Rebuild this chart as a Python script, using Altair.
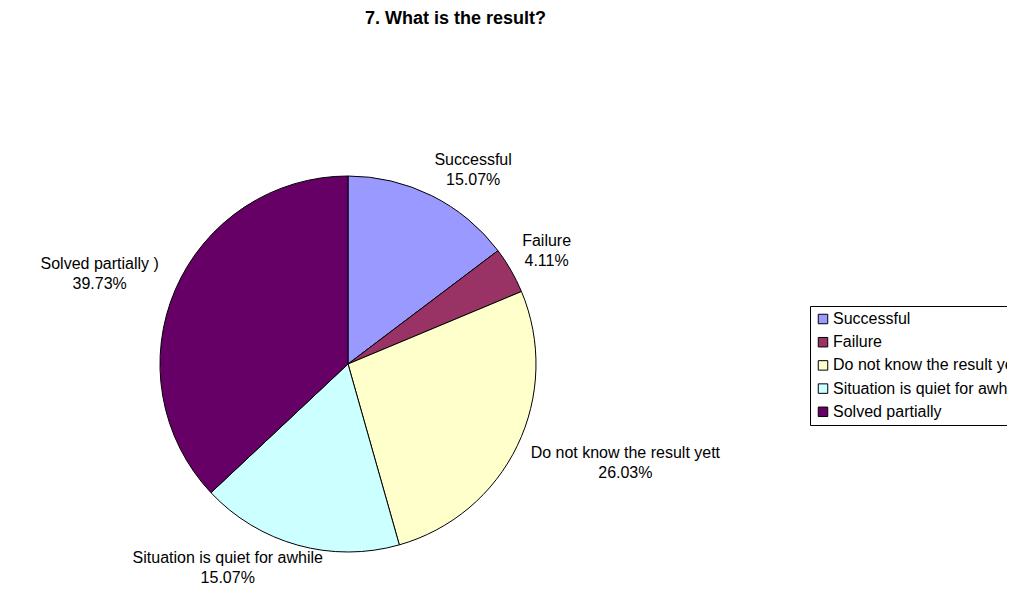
import altair as alt
import pandas as pd

# ---- data ----
categories = ["Successful", "Failure", "Do not know the result yet",
              "Situation is quiet for awhile", "Solved partially"]
slice_values = [14.7, 4.0, 26.9, 17.4, 37.0]          # share of the pie as drawn (%)
label_names = ["Successful", "Failure", "Do not know the result yett",
               "Situation is quiet for awhile", "Solved partially )"]
label_pcts = ["15.07%", "4.11%", "26.03%", "15.07%", "39.73%"]
colors = ["#9999FF", "#993366", "#FFFFCC", "#CCFFFF", "#660066"]

df = pd.DataFrame({
    "cat": categories,
    "value": slice_values,
    "order": list(range(len(categories))),
    "lname": label_names,
    "lpct": label_pcts,
})

# ---- layout (style) ----
W, H, PT = 999, 548, 30
CX, CY, R = 340, 326, 188
FONT = "Liberation Sans"

base = alt.Chart(df).transform_joinaggregate(
    total="sum(value)"
).transform_window(
    cum="sum(value)", sort=[alt.SortField("order")], frame=[None, 0]
)

pie = base.mark_arc(outerRadius=R, stroke="black", strokeWidth=1).encode(
    theta=alt.Theta("value:Q", stack=True),
    order=alt.Order("order:Q"),
    color=alt.Color(
        "cat:N",
        sort=categories,
        scale=alt.Scale(domain=categories, range=colors),
        legend=alt.Legend(
            title=None, orient="none", legendX=802, legendY=268,
            symbolType="square", symbolSize=90, symbolStrokeColor="black",
            symbolStrokeWidth=1, symbolOpacity=1,
            labelFont=FONT, labelFontSize=16, labelColor="black",
            labelLimit=500, labelOffset=2, rowPadding=7.2,
            strokeColor="black", fillColor="white", padding=5,
        ),
    ),
    x=alt.value(CX),
    y=alt.value(CY),
)

labels = base.transform_calculate(
    a="2*PI*(datum.cum - datum.value/2)/datum.total",
).transform_calculate(
    px=f"{CX} + {R}*sin(datum.a)",
    py=f"{CY} - {R}*cos(datum.a)",
    w="max(length(datum.lname), length(datum.lpct))*7.2",
    f="clamp(0.5 - 1.2*sin(datum.a), 0, 1)",
    fy="clamp(0.5 + 0.9*cos(datum.a), 0, 1)",
    gy="cos(datum.a) > 0 ? 11 : 3",
    txt="datum.lname + '\\n' + datum.lpct",
).transform_calculate(
    lx="datum.px + 12*sin(datum.a) + datum.w*(0.5 - datum.f)",
    ly="datum.py - datum.gy*cos(datum.a) + 36*(0.5 - datum.fy)",
).mark_text(
    font=FONT, fontSize=16, color="black", lineBreak="\n", lineHeight=20,
    align="center", baseline="middle", dy=-8,
).encode(
    x=alt.X("lx:Q", scale=None),
    y=alt.Y("ly:Q", scale=None),
    text="txt:N",
)

chart = alt.layer(pie, labels).properties(
    width=W, height=H,
    background="white",
    autosize=alt.AutoSizeParams(type="none"),
    padding={"top": PT, "left": 0, "right": 0, "bottom": 0},
    title=alt.TitleParams(
        "7. What is the result?", font=FONT, fontSize=18, fontWeight="bold",
        color="black", anchor="middle", frame="group", dx=-52,
        offset=10,
    ),
).configure_view(stroke=None)

chart.save("out.html", embed_options={"renderer": "svg", "actions": False})
